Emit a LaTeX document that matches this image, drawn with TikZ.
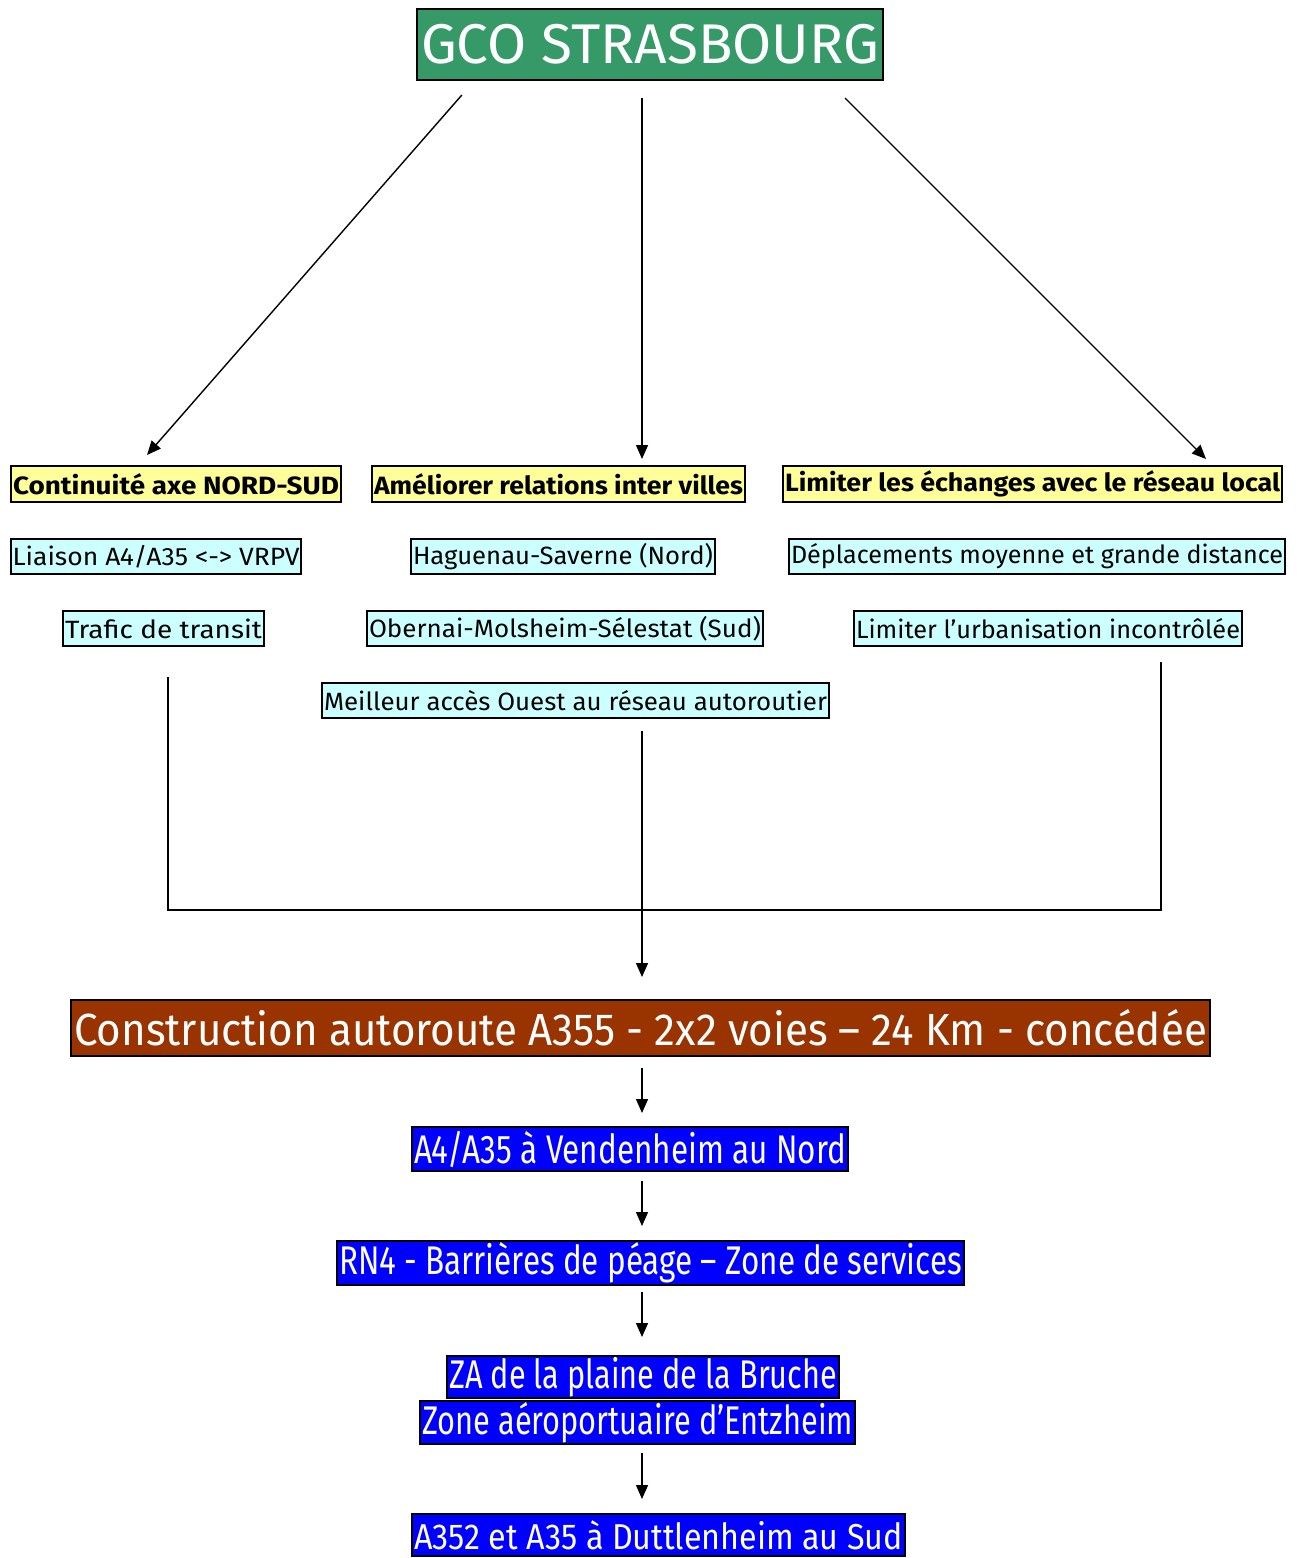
\documentclass[tikz,border=0pt]{standalone}
\usepackage{fontspec}
\usepackage{graphicx}
\setmainfont{Fira Sans}
\usetikzlibrary{arrows.meta,calc}
\definecolor{gcogreen}{RGB}{54,154,104}
\definecolor{ylw}{RGB}{255,255,153}
\definecolor{cyn}{RGB}{204,255,255}
\definecolor{brn}{RGB}{153,51,0}
\definecolor{blu}{RGB}{0,0,255}
\newsavebox\fitbox
\newcommand\fitw[3]{\sbox\fitbox{\fontsize{#2}{#2}\selectfont #3}\pgfmathsetmacro\fitr{#1/\the\wd\fitbox}\scalebox{\fitr}[1]{\usebox\fitbox}}
\tikzset{
  boxbase/.style={draw=black, line width=1.5pt, inner sep=0pt, outer sep=0pt},
  gbox/.style={boxbase, fill=gcogreen, text=white, line width=2pt},
  ybox/.style={boxbase, fill=ylw, text=black},
  cbox/.style={boxbase, fill=cyn, text=black},
  rbox/.style={boxbase, fill=brn, text=white, line width=2pt},
  bbox/.style={boxbase, fill=blu, text=white, line width=2pt},
  arr/.style={line width=1.4pt, -{Triangle[length=14pt,width=12pt]}},
  conn/.style={line width=1.4pt}
}
\begin{document}
\begin{tikzpicture}[x=1pt,y=-1pt]
\useasboundingbox (0,0) rectangle (1298,1558);
\coordinate (xl) at (642,0);
% title
\node[gbox, minimum width=466, minimum height=71] (gco) at (650,44.5) {\fitw{458}{56}{GCO STRASBOURG}};
% yellow row
\node[ybox, minimum width=330, minimum height=36] (y1) at (176,484) {\fitw{326}{25}{\bfseries Continuité axe NORD-SUD}};
\node[ybox, minimum width=373, minimum height=36] (y2) at (558.5,484) {\fitw{369}{25}{\bfseries Améliorer relations inter villes}};
\node[ybox, minimum width=499, minimum height=36] (y3) at (1032.5,484) {\fitw{495}{25}{\bfseries Limiter les échanges avec le réseau local}};
% cyan rows
\node[cbox, minimum width=290, minimum height=35] (c1) at (156,556.5) {\fitw{287}{25}{Liaison A4/A35 <-> VRPV}};
\node[cbox, minimum width=304, minimum height=35] (c2) at (563,556.5) {\fitw{300}{25}{Haguenau-Saverne (Nord)}};
\node[cbox, minimum width=496, minimum height=35] (c3) at (1037,556.5) {\fitw{492}{25}{Déplacements moyenne et grande distance}};
\node[cbox, minimum width=201, minimum height=35] (d1) at (163.5,628.5) {\fitw{197}{25}{Trafic de transit}};
\node[cbox, minimum width=396, minimum height=35] (d2) at (565,628.5) {\fitw{392}{25}{Obernai-Molsheim-Sélestat (Sud)}};
\node[cbox, minimum width=388, minimum height=35] (d3) at (1048,628.5) {\fitw{384}{25}{Limiter l’urbanisation incontrôlée}};
\node[cbox, minimum width=507, minimum height=35] (m) at (575.5,700.5) {\fitw{503}{25}{Meilleur accès Ouest au réseau autoroutier}};
% construction
\node[rbox, minimum width=1139, minimum height=56] (cons) at (640.5,1028) {\fitw{1133}{45}{Construction autoroute A355 - 2x2 voies – 24 Km - concédée}};
% blue chain
\node[bbox, minimum width=436, minimum height=44] (b1) at (630,1149) {\fitw{432}{40}{A4/A35 à Vendenheim au Nord}};
\node[bbox, minimum width=627, minimum height=44] (b2) at (650.5,1263) {\fitw{623}{40}{RN4 - Barrières de péage – Zone de services}};
\node[bbox, minimum width=392, minimum height=42] (b3) at (643,1377) {\fitw{388}{40}{ZA de la plaine de la Bruche}};
\node[bbox, minimum width=435, minimum height=43] (b4) at (637.5,1422.5) {\fitw{431}{40}{Zone aéroportuaire d’Entzheim}};
\node[bbox, minimum width=493, minimum height=42] (b5) at (658.5,1535) {\fitw{489}{36}{A352 et A35 à Duttlenheim au Sud}};
% arrows from title
\draw[arr, shorten <=20pt, shorten >=14.6pt] ($(gco.south)+(-175,0)$) -- ($(y1.north)+(-38.6,0)$);
\draw[arr, shorten <=18pt, shorten >=7pt] (gco.south -| xl) -- (y2.north -| xl);
\draw[arr, shorten <=25.5pt, shorten >=9.9pt] ($(gco.south)+(177,0)$) -- ($(y3.north)+(180.5,0)$);
% merging lines
\draw[conn] ($(d1.south)+(4.5,31)$) -- ++(0,233) -| ($(d3.south)+(113,16)$);
\draw[arr, shorten <=13pt, shorten >=23pt] (m.south -| xl) -- (cons.north -| xl);
% chain arrows
\draw[arr, shorten <=12pt, shorten >=14pt] (cons.south -| xl) -- (b1.north -| xl);
\draw[arr, shorten <=10pt, shorten >=15pt] (b1.south -| xl) -- (b2.north -| xl);
\draw[arr, shorten <=7pt, shorten >=19pt] (b2.south -| xl) -- (b3.north -| xl);
\draw[arr, shorten <=9pt, shorten >=15pt] (b4.south -| xl) -- (b5.north -| xl);
\end{tikzpicture}
\end{document}
